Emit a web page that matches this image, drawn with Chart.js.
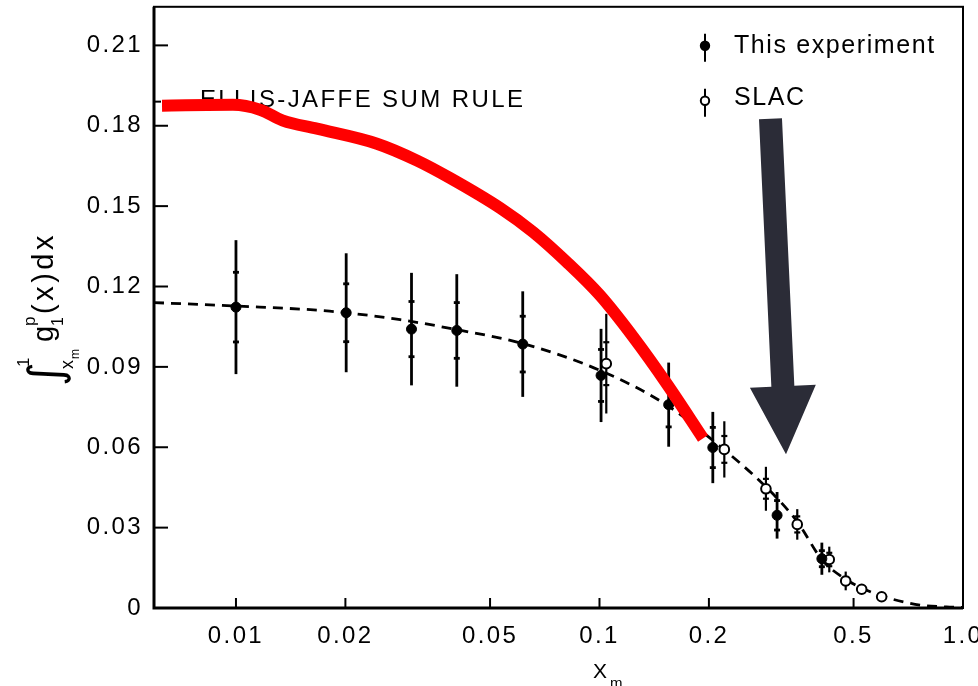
<!DOCTYPE html>
<html lang="en">
<head>
    <meta charset="UTF-8">
    <title>Integral of g1p</title>
    <script src="https://cdn.jsdelivr.net/npm/chart.js@4.4.1/dist/chart.umd.js"></script>
    <style>
        body { margin: 0; background: #fff; }
        #wrap { width: 978px; height: 686px; }
    </style>
</head>
<body>
    <div id="wrap"><canvas id="chart" width="978" height="686"></canvas></div>

    <script>
        // axis ticks
        const xTicks = [0.01, 0.02, 0.05, 0.1, 0.2, 0.5, 1.0];
        const xTickLabels = ['0.01', '0.02', '0.05', '0.1', '0.2', '0.5', '1.0'];
        const yTicks = [0, 0.03, 0.06, 0.09, 0.12, 0.15, 0.18, 0.21];
        const yTickLabels = ['0', '0.03', '0.06', '0.09', '0.12', '0.15', '0.18', '0.21'];

        // This experiment (filled points)
        const expX = [0.0100, 0.0201, 0.0304, 0.0405, 0.0615, 0.101, 0.155, 0.205, 0.308, 0.409];
        const expY = [0.1123, 0.1102, 0.1041, 0.1036, 0.0985, 0.0868, 0.0759, 0.0599, 0.0346, 0.0184];
        const expErrTot = [0.025, 0.0222, 0.021, 0.021, 0.0197, 0.0174, 0.0157, 0.0133, 0.0087, 0.006];
        const expErrStat = [0.013, 0.0108, 0.0103, 0.0104, 0.0104, 0.0097, 0.0083, 0.0075, 0.0055, 0.003];

        // SLAC (open points)
        const slacX = [0.1044, 0.2205, 0.287, 0.350, 0.4287, 0.4757, 0.5264, 0.5974];
        const slacY = [0.0912, 0.0592, 0.0445, 0.0312, 0.0181, 0.0101, 0.0070, 0.0042];
        const slacErrTot = [0.0186, 0.0105, 0.0082, 0.0057, 0.0048, 0.0035, 0, 0];
        const slacErrStat = [0.008, 0.005, 0.0037, 0.003, 0.0025, 0.0015, 0, 0];

        // dashed fit through the data
        const fitX = [0.00595, 0.0100, 0.0181, 0.0283, 0.0405, 0.0615, 0.1003, 0.1533, 0.2048, 0.287, 0.350, 0.41, 0.476, 0.526, 0.597, 0.7616, 0.90, 1.0];
        const fitY = [0.1140, 0.1127, 0.1108, 0.1076, 0.1039, 0.0987, 0.0887, 0.0757, 0.0626, 0.0452, 0.0322, 0.0179, 0.0107, 0.0075, 0.0045, 0.0011, 0.0004, 0.0002];

        // red overlay curve
        const redX = [0.00626, 0.00981, 0.01164, 0.01347, 0.0167, 0.02443, 0.0315, 0.0388, 0.0533, 0.0657, 0.0813, 0.1003, 0.1239, 0.1531, 0.1927];
        const redY = [0.1875, 0.1878, 0.1860, 0.1819, 0.1789, 0.1733, 0.1670, 0.1605, 0.1493, 0.1403, 0.1291, 0.1167, 0.1011, 0.0837, 0.0633];

        // annotations (data units)
        const ellisJaffeValue = 0.189;
        const ellisJaffeLabelAt = [0.00796, 0.1893];
        const arrowFrom = [0.2954, 0.1826];
        const arrowTo = [0.3259, 0.0574];

        const FONT = '"Liberation Sans", Arial, sans-serif';

        function pts(xs, ys) {
            return xs.map((x, i) => ({ x: x, y: ys[i] }));
        }

        function drawErrors(ctx, xs, ys, tot, stat, sx, sy, lw) {
            ctx.save();
            ctx.strokeStyle = '#000';
            ctx.lineWidth = lw;
            for (let i = 0; i < xs.length; i++) {
                if (!tot[i]) continue;
                const px = sx.getPixelForValue(xs[i]);
                ctx.beginPath();
                ctx.moveTo(px, sy.getPixelForValue(ys[i] + tot[i]));
                ctx.lineTo(px, sy.getPixelForValue(ys[i] - tot[i]));
                ctx.stroke();
                if (stat[i]) {
                    [ys[i] + stat[i], ys[i] - stat[i]].forEach(v => {
                        const py = sy.getPixelForValue(v);
                        ctx.beginPath();
                        ctx.moveTo(px - 3, py);
                        ctx.lineTo(px + 3, py);
                        ctx.stroke();
                    });
                }
            }
            ctx.restore();
        }

        function drawYTitle(ctx, ox, oy) {
            ctx.save();
            ctx.translate(ox, oy);
            ctx.rotate(-Math.PI / 2);
            ctx.fillStyle = '#000';
            ctx.textBaseline = 'alphabetic';
            ctx.textAlign = 'left';
            const put = (t, size, u, v, sp) => {
                ctx.font = size + 'px ' + FONT;
                ctx.letterSpacing = (sp || 0) + 'px';
                ctx.fillText(t, u, v);
            };
            ctx.save();
            ctx.font = '46px "DejaVu Sans", sans-serif';
            ctx.letterSpacing = '0px';
            ctx.fillText('\u222B', -2, 8);
            ctx.restore();
            put('1', 17, 17, -24);
            put('x', 18, 15, 20);
            put('m', 12, 25, 26);
            put('g', 29, 42, 0);
            put('1', 16, 58, 10);
            put('p', 17, 58, -18);
            put('(x)dx', 29, 70, 0, 3.5);
            ctx.restore();
        }

        const overlay = {
            id: 'overlay',
            beforeDraw(chart) {
                chart.ctx.letterSpacing = '2.4px';
            },
            beforeDatasetsDraw(chart) {
                const ctx = chart.ctx;
                const sx = chart.scales.x, sy = chart.scales.y;
                // sum rule label (sits under the red curve)
                ctx.save();
                ctx.font = '24px ' + FONT;
                ctx.letterSpacing = '2.4px';
                ctx.fillStyle = '#000';
                ctx.textBaseline = 'middle';
                ctx.fillText('ELLIS-JAFFE SUM RULE', sx.getPixelForValue(ellisJaffeLabelAt[0]), sy.getPixelForValue(ellisJaffeLabelAt[1]));
                ctx.restore();
                drawErrors(ctx, expX, expY, expErrTot, expErrStat, sx, sy, 2.8);
                drawErrors(ctx, slacX, slacY, slacErrTot, slacErrStat, sx, sy, 2.2);
            },
            afterDatasetsDraw(chart) {
                const ctx = chart.ctx;
                const sx = chart.scales.x, sy = chart.scales.y;
                // arrow
                const p0 = { x: sx.getPixelForValue(arrowFrom[0]), y: sy.getPixelForValue(arrowFrom[1]) };
                const p1 = { x: sx.getPixelForValue(arrowTo[0]), y: sy.getPixelForValue(arrowTo[1]) };
                const len = Math.hypot(p1.x - p0.x, p1.y - p0.y);
                const d = { x: (p1.x - p0.x) / len, y: (p1.y - p0.y) / len };
                const n = { x: -d.y, y: d.x };
                const sw = 11.5, hw = 33, hl = 68;
                const b = { x: p1.x - d.x * hl, y: p1.y - d.y * hl };
                ctx.save();
                ctx.fillStyle = '#2b2c37';
                ctx.beginPath();
                ctx.moveTo(p0.x + n.x * sw, p0.y + n.y * sw);
                ctx.lineTo(b.x + n.x * sw, b.y + n.y * sw);
                ctx.lineTo(b.x + n.x * hw, b.y + n.y * hw);
                ctx.lineTo(p1.x, p1.y);
                ctx.lineTo(b.x - n.x * hw, b.y - n.y * hw);
                ctx.lineTo(b.x - n.x * sw, b.y - n.y * sw);
                ctx.lineTo(p0.x - n.x * sw, p0.y - n.y * sw);
                ctx.closePath();
                ctx.fill();
                ctx.restore();
            },
            afterDraw(chart) {
                const ctx = chart.ctx;
                const a = chart.chartArea;
                const sx = chart.scales.x, sy = chart.scales.y;
                ctx.save();
                ctx.strokeStyle = '#000';
                // frame
                ctx.lineWidth = 2;
                ctx.strokeRect(a.left, a.top, a.right - a.left, a.bottom - a.top);
                ctx.lineWidth = 3;
                ctx.beginPath();
                ctx.moveTo(a.left, a.top);
                ctx.lineTo(a.left, a.bottom);
                ctx.lineTo(a.right, a.bottom);
                ctx.stroke();
                // inward ticks
                ctx.lineWidth = 2;
                yTicks.forEach(v => {
                    if (v === 0) return;
                    const py = sy.getPixelForValue(v);
                    ctx.beginPath();
                    ctx.moveTo(a.left, py);
                    ctx.lineTo(a.left + 14, py);
                    ctx.stroke();
                });
                xTicks.forEach(v => {
                    if (v >= 1) return;
                    const px = sx.getPixelForValue(v);
                    ctx.beginPath();
                    ctx.moveTo(px, a.bottom);
                    ctx.lineTo(px, a.bottom - 10);
                    ctx.stroke();
                });
                // sum rule marker on the axis
                const ej = sy.getPixelForValue(ellisJaffeValue);
                ctx.beginPath();
                ctx.moveTo(a.left, ej);
                ctx.lineTo(a.left + 7, ej);
                ctx.stroke();

                // legend
                const lx = a.right - 258;
                const rows = [{ y: a.top + 39, label: 'This experiment', filled: true },
                              { y: a.top + 91, label: 'SLAC', filled: false }];
                ctx.font = '25px ' + FONT;
                ctx.letterSpacing = '1.6px';
                ctx.textBaseline = 'middle';
                ctx.fillStyle = '#000';
                rows.forEach(r => {
                    const cy = r.filled ? r.y : r.y + 3;
                    ctx.lineWidth = 2;
                    ctx.beginPath();
                    ctx.moveTo(lx, cy - 12);
                    ctx.lineTo(lx, cy + 16);
                    ctx.stroke();
                    ctx.beginPath();
                    ctx.arc(lx, cy, 4.2, 0, Math.PI * 2);
                    ctx.fillStyle = r.filled ? '#000' : '#fff';
                    ctx.fill();
                    ctx.stroke();
                    ctx.fillStyle = '#000';
                    ctx.fillText(r.label, lx + 29, r.y);
                });

                // x title
                ctx.letterSpacing = '0px';
                ctx.textBaseline = 'alphabetic';
                ctx.font = '21px ' + FONT;
                ctx.fillText('X', a.left + 439, 678);
                ctx.font = '15px ' + FONT;
                ctx.fillText('m', a.left + 456, 688);

                // y title
                drawYTitle(ctx, 53, 384);
                ctx.restore();
                ctx.letterSpacing = '0px';
            }
        };

        new Chart(document.getElementById('chart'), {
            type: 'scatter',
            data: {
                datasets: [
                    {
                        label: 'red',
                        data: pts(redX, redY),
                        showLine: true,
                        borderColor: '#ff0000',
                        borderWidth: 12,
                        borderCapStyle: 'butt',
                        cubicInterpolationMode: 'monotone',
                        pointRadius: 0,
                        order: 0
                    },
                    {
                        label: 'This experiment',
                        data: pts(expX, expY),
                        pointRadius: 5,
                        pointBackgroundColor: '#000',
                        pointBorderColor: '#000',
                        pointBorderWidth: 1,
                        order: 1
                    },
                    {
                        label: 'SLAC',
                        data: pts(slacX, slacY),
                        pointRadius: 4.8,
                        pointBackgroundColor: '#fff',
                        pointBorderColor: '#000',
                        pointBorderWidth: 2,
                        order: 2
                    },
                    {
                        label: 'fit',
                        data: pts(fitX, fitY),
                        showLine: true,
                        borderColor: '#000',
                        borderWidth: 2.8,
                        borderDash: [10, 7],
                        cubicInterpolationMode: 'monotone',
                        pointRadius: 0,
                        order: 3
                    }
                ]
            },
            options: {
                responsive: false,
                animation: false,
                devicePixelRatio: 1,
                layout: { padding: { top: 6, right: 15, left: 0, bottom: 0 } },
                plugins: { legend: { display: false }, tooltip: { enabled: false } },
                scales: {
                    x: {
                        type: 'logarithmic',
                        min: 0.00595,
                        max: 1.0,
                        grid: { display: false },
                        border: { display: false },
                        afterBuildTicks: s => { s.ticks = xTicks.map(v => ({ value: v })); },
                        afterFit: s => { s.height = 78; s.paddingLeft = 0; s.paddingRight = 0; },
                        ticks: {
                            autoSkip: false,
                            maxRotation: 0,
                            padding: 6,
                            color: '#000',
                            font: { family: FONT, size: 24 },
                            callback: (v, i) => xTickLabels[i]
                        }
                    },
                    y: {
                        min: 0,
                        max: 0.2244,
                        grid: { display: false },
                        border: { display: false },
                        afterBuildTicks: s => { s.ticks = yTicks.map(v => ({ value: v })); },
                        afterFit: s => { s.width = 154; s.paddingTop = 0; s.paddingBottom = 0; },
                        ticks: {
                            padding: 3,
                            color: '#000',
                            font: { family: FONT, size: 24 },
                            callback: (v, i) => yTickLabels[i]
                        }
                    }
                }
            },
            plugins: [overlay]
        });
    </script>
</body>
</html>
